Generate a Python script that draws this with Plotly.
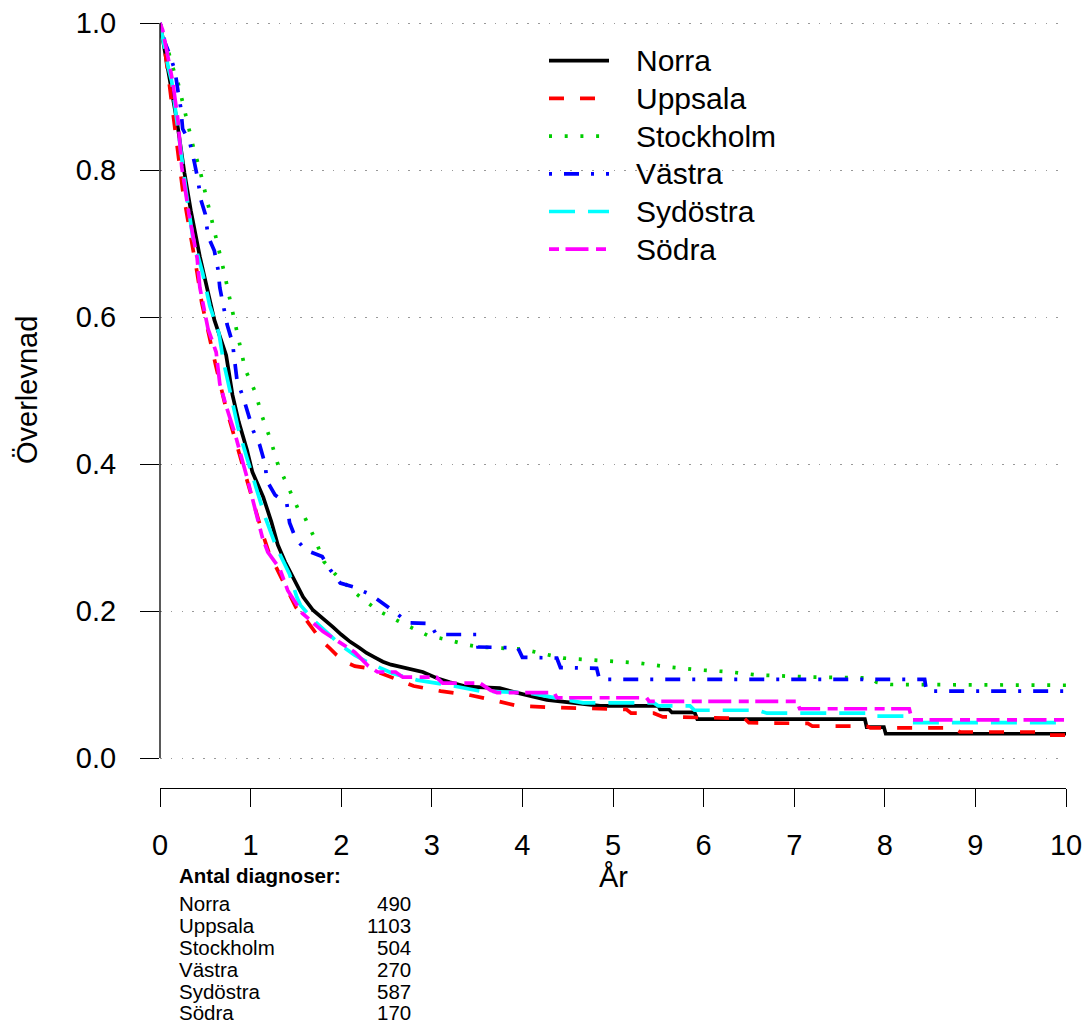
import plotly.graph_objects as go

# ---------------- data ----------------
regions = ["Norra", "Uppsala", "Stockholm", "Västra", "Sydöstra", "Södra"]
n_diagnoses = [490, 1103, 504, 270, 587, 170]

norra_t = [0, 0.05, 0.1, 0.19, 0.27, 0.34, 0.44, 0.52, 0.6, 0.73, 0.8, 0.87, 0.96, 1.02, 1.14, 1.23,
           1.3, 1.38, 1.5, 1.58, 1.69, 1.8, 1.91, 2.0, 2.1, 2.2, 2.28, 2.37, 2.46, 2.55, 2.65, 2.9,
           3.05, 3.2, 3.39, 3.75, 3.9, 4.05, 4.27, 4.49, 4.7, 4.86, 5.5, 5.52, 5.62, 5.65, 5.9, 5.93,
           7.78, 7.8, 7.99, 8.01, 10]
norra_s = [1.0, 0.965, 0.93, 0.864, 0.796, 0.745, 0.682, 0.64, 0.596, 0.548, 0.494, 0.457, 0.419,
           0.389, 0.355, 0.321, 0.29, 0.267, 0.238, 0.219, 0.201, 0.19, 0.178, 0.168, 0.158, 0.15,
           0.143, 0.137, 0.131, 0.127, 0.124, 0.117, 0.109, 0.103, 0.097, 0.095, 0.09, 0.086, 0.079,
           0.076, 0.073, 0.071, 0.071, 0.066, 0.066, 0.062, 0.062, 0.053, 0.053, 0.042, 0.042, 0.033,
           0.033]

uppsala_t = [0, 0.05, 0.1, 0.14, 0.19, 0.25, 0.31, 0.37, 0.41, 0.46, 0.52, 0.61, 0.72, 0.83, 0.93,
             1.03, 1.12, 1.2, 1.31, 1.42, 1.5, 1.6, 1.69, 1.78, 1.86, 1.95, 2.04, 2.15, 2.3, 2.45,
             2.57, 2.7, 2.8, 3.1, 3.4, 3.67, 3.94, 4.3, 4.64, 4.97, 5.15, 5.2, 5.45, 5.55, 5.9, 6.45,
             6.5, 7.15, 7.2, 7.8, 7.84, 8.75, 8.83, 9.75, 9.8, 10]
uppsala_s = [1.0, 0.967, 0.92, 0.88, 0.83, 0.773, 0.73, 0.69, 0.66, 0.62, 0.585, 0.537, 0.48, 0.433,
             0.39, 0.347, 0.31, 0.28, 0.253, 0.224, 0.205, 0.19, 0.174, 0.16, 0.151, 0.14, 0.131,
             0.125, 0.122, 0.115, 0.109, 0.102, 0.098, 0.091, 0.086, 0.079, 0.071, 0.069, 0.068,
             0.066, 0.066, 0.061, 0.061, 0.056, 0.055, 0.054, 0.048, 0.047, 0.0435, 0.0435, 0.041,
             0.041, 0.0354, 0.0354, 0.031, 0.031]

stockholm_t = [0, 0.04, 0.08, 0.14, 0.2, 0.24, 0.3, 0.37, 0.44, 0.54, 0.64, 0.71, 0.78, 0.85, 0.94,
               1.05, 1.13, 1.22, 1.3, 1.41, 1.52, 1.6, 1.71, 1.81, 1.98, 2.17, 2.4, 2.65, 2.95, 3.2,
               3.39, 3.53, 4.0, 4.45, 4.97, 5.3, 5.6, 5.93, 6.3, 6.59, 7.2, 7.85, 7.91, 8.06, 10]
stockholm_s = [1.0, 0.975, 0.967, 0.94, 0.918, 0.898, 0.864, 0.83, 0.8, 0.75, 0.7, 0.66, 0.619,
               0.582, 0.529, 0.498, 0.464, 0.433, 0.4, 0.37, 0.34, 0.327, 0.298, 0.267, 0.244,
               0.223, 0.201, 0.185, 0.167, 0.16, 0.154, 0.151, 0.148, 0.136, 0.132, 0.129, 0.124,
               0.12, 0.117, 0.113, 0.11, 0.109, 0.103, 0.1, 0.099]

vastra_t = [0, 0.05, 0.11, 0.165, 0.2, 0.23, 0.25, 0.33, 0.38, 0.42, 0.45, 0.5, 0.53, 0.6, 0.64,
            0.66, 0.7, 0.74, 0.8, 0.85, 0.92, 0.97, 1.03, 1.1, 1.16, 1.18, 1.27, 1.4, 1.43, 1.5,
            1.61, 1.79, 1.88, 1.99, 2.13, 2.33, 2.46, 2.61, 2.73, 2.98, 3.05, 3.5, 3.51, 3.95, 4.0,
            4.38, 4.42, 4.82, 4.85, 8.44, 8.46, 10]
vastra_s = [1.0, 0.975, 0.956, 0.935, 0.906, 0.884, 0.856, 0.837, 0.81, 0.786, 0.76, 0.74, 0.71,
            0.69, 0.665, 0.64, 0.615, 0.59, 0.565, 0.514, 0.49, 0.469, 0.445, 0.426, 0.4, 0.377,
            0.358, 0.346, 0.32, 0.298, 0.283, 0.274, 0.256, 0.238, 0.233, 0.222, 0.21, 0.197,
            0.184, 0.183, 0.168, 0.168, 0.151, 0.15, 0.137, 0.136, 0.123, 0.122, 0.107, 0.107,
            0.091, 0.091]

sydostra_t = [0, 0.04, 0.09, 0.13, 0.19, 0.24, 0.3, 0.36, 0.47, 0.55, 0.65, 0.7, 0.78, 0.86, 0.96,
              1.06, 1.16, 1.28, 1.43, 1.51, 1.55, 1.69, 1.85, 1.99, 2.15, 2.28, 2.57, 2.84, 3.2,
              3.53, 4.05, 4.45, 4.67, 5.45, 5.5, 5.85, 5.9, 6.6, 6.7, 7.8, 7.85, 8.25, 8.3, 10]
sydostra_s = [1.0, 0.97, 0.94, 0.92, 0.86, 0.81, 0.76, 0.71, 0.66, 0.615, 0.578, 0.54, 0.497, 0.45,
              0.408, 0.369, 0.328, 0.288, 0.25, 0.219, 0.208, 0.188, 0.17, 0.154, 0.14, 0.131,
              0.115, 0.106, 0.099, 0.091, 0.089, 0.08, 0.075, 0.075, 0.071, 0.071, 0.065, 0.065,
              0.061, 0.061, 0.057, 0.057, 0.048, 0.048]

sodra_t = [0, 0.03, 0.1, 0.14, 0.2, 0.24, 0.32, 0.41, 0.44, 0.53, 0.62, 0.66, 0.73, 0.83, 0.96, 1.06,
           1.13, 1.19, 1.32, 1.41, 1.57, 1.8, 1.99, 2.15, 2.3, 2.4, 2.6, 2.68, 3.05, 3.12, 3.53, 3.65,
           3.72, 4.35, 4.38, 5.37, 5.4, 7.03, 7.06, 8.27, 8.3, 10]
sodra_s = [1.0, 0.99, 0.946, 0.92, 0.866, 0.804, 0.74, 0.68, 0.64, 0.584, 0.552, 0.509, 0.479, 0.44,
           0.382, 0.333, 0.3, 0.28, 0.258, 0.228, 0.197, 0.172, 0.156, 0.144, 0.125, 0.117, 0.117,
           0.11, 0.11, 0.102, 0.102, 0.092, 0.089, 0.089, 0.082, 0.082, 0.077, 0.077, 0.067, 0.067,
           0.052, 0.052]

y_ticks = [0.0, 0.2, 0.4, 0.6, 0.8, 1.0]
y_ticktext = ["0.0", "0.2", "0.4", "0.6", "0.8", "1.0"]
x_ticks = [0, 1, 2, 3, 4, 5, 6, 7, 8, 9, 10]

# ---------------- styles ----------------
series = [
    (regions[0], norra_t, norra_s, "#000000", "solid"),
    (regions[1], uppsala_t, uppsala_s, "#ff0000", "15px,16px"),
    (regions[2], stockholm_t, stockholm_s, "#00cd00", "3px,12.7px"),
    (regions[3], vastra_t, vastra_s, "#0000ff", "3px,12px,15px,12px"),
    (regions[4], sydostra_t, sydostra_s, "#00ffff", "26px,13px"),
    (regions[5], sodra_t, sodra_s, "#ff00ff", "10px,6.5px,23px,7.5px"),
]
LW = 3.7
FONT = "Liberation Sans, Arial, Helvetica, sans-serif"

W, H = 1088, 1028
L, R, T, B = 160, 22, 16, 240
PW, PH = W - L - R, H - T - B
Y_BOTTOM, Y_TOP = -30 / 735, 1 + 7 / 735


def px_x(px):
    return (px - L) / PW


def px_y(py):
    return (H - B - py) / PH


fig = go.Figure()
for name, t, s, color, dash in series:
    fig.add_trace(go.Scatter(x=t, y=s, mode="lines", name=name,
                             line=dict(color=color, width=LW, dash=dash),
                             showlegend=False, hoverinfo="skip"))

shapes = []
annotations = []

# y-axis line (only from 0 to 1, like base R)
shapes.append(dict(type="line", xref="paper", yref="y", x0=0, x1=0, y0=0, y1=1,
                   line=dict(color="black", width=1.3)))

# manual legend
leg_y = [60.7, 98.4, 136.1, 173.8, 211.5, 249.2]
for (name, t, s, color, dash), yy in zip(series, leg_y):
    shapes.append(dict(type="line", xref="paper", yref="paper",
                       x0=px_x(549), x1=px_x(609), y0=px_y(yy), y1=px_y(yy),
                       line=dict(color=color, width=LW, dash=dash)))
    annotations.append(dict(text=name, xref="paper", yref="paper", x=px_x(634), y=px_y(yy),
                            xanchor="left", yanchor="middle", showarrow=False,
                            font=dict(size=30, family=FONT, color="black")))

# axis titles
annotations.append(dict(text="Överlevnad", xref="paper", yref="paper", x=px_x(27), y=px_y(390),
                        xanchor="center", yanchor="middle", textangle=-90, showarrow=False,
                        font=dict(size=29, family=FONT, color="black")))
annotations.append(dict(text="År", xref="paper", yref="paper", x=px_x(613), y=px_y(877),
                        xanchor="center", yanchor="middle", showarrow=False,
                        font=dict(size=29, family=FONT, color="black")))

# table of number of diagnoses
annotations.append(dict(text="<b>Antal diagnoser:</b>", xref="paper", yref="paper",
                        x=px_x(177), y=px_y(875), xanchor="left", yanchor="middle",
                        showarrow=False, font=dict(size=20.5, family=FONT, color="black")))
row_y = [903.5, 925.5, 947.5, 969.5, 991.5, 1013]
for name, n, yy in zip(regions, n_diagnoses, row_y):
    annotations.append(dict(text=name, xref="paper", yref="paper", x=px_x(177), y=px_y(yy),
                            xanchor="left", yanchor="middle", showarrow=False,
                            font=dict(size=20.5, family=FONT, color="black")))
    annotations.append(dict(text=str(n), xref="paper", yref="paper", x=px_x(413), y=px_y(yy),
                            xanchor="right", yanchor="middle", showarrow=False,
                            font=dict(size=20.5, family=FONT, color="black")))

fig.update_layout(
    width=W, height=H, autosize=False,
    margin=dict(l=L, r=R, t=T, b=B, pad=0, autoexpand=False),
    paper_bgcolor="white", plot_bgcolor="white",
    showlegend=False,
    shapes=shapes, annotations=annotations,
    font=dict(family=FONT, color="black"),
)
fig.update_xaxes(range=[0, 10], tickvals=x_ticks, ticktext=[str(v) for v in x_ticks],
                 automargin=False,
                 showline=True, linecolor="black", linewidth=1.3, mirror=False,
                 ticks="outside", ticklen=18, tickwidth=1.3, tickcolor="black",
                 showgrid=False, zeroline=False, ticklabelstandoff=13,
                 tickfont=dict(size=29, family=FONT, color="black"), fixedrange=True)
fig.update_yaxes(range=[Y_BOTTOM, Y_TOP], tickvals=y_ticks, ticktext=y_ticktext,
                 automargin=False,
                 showline=False, ticks="outside", ticklen=19, tickwidth=1.3, tickcolor="black",
                 showgrid=True, gridcolor="#999999", gridwidth=1.3, griddash="1.5px,9.3px",
                 zeroline=False, ticklabelstandoff=18,
                 tickfont=dict(size=29, family=FONT, color="black"), fixedrange=True)

fig.write_html("out.html")
